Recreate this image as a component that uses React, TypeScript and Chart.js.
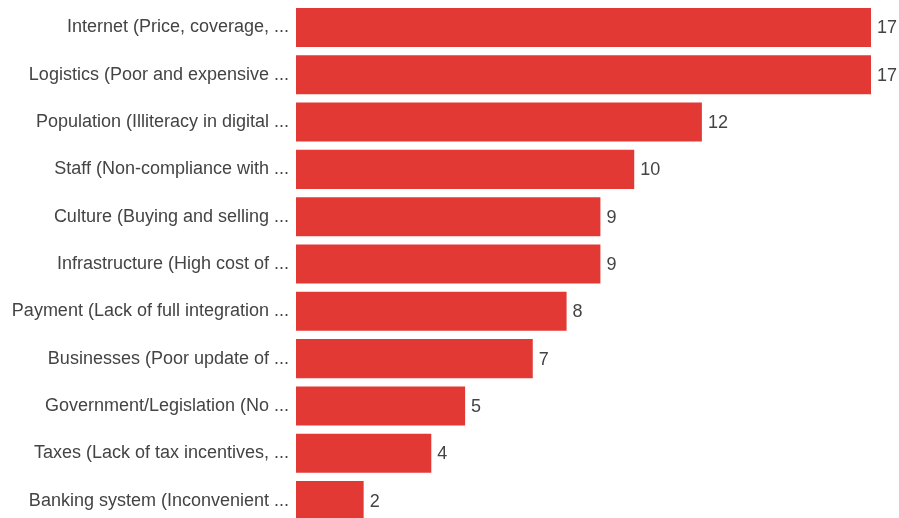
import React, { useEffect, useRef } from "react";
import { Chart, registerables } from "chart.js";

Chart.register(...registerables);

const categories = [
  "Internet (Price, coverage, ...",
  "Logistics (Poor and expensive ...",
  "Population (Illiteracy in digital ...",
  "Staff (Non-compliance with ...",
  "Culture (Buying and selling ...",
  "Infrastructure (High cost of ...",
  "Payment (Lack of full integration ...",
  "Businesses (Poor update of ...",
  "Government/Legislation (No ...",
  "Taxes (Lack of tax incentives, ...",
  "Banking system (Inconvenient ...",
];
const values = [17, 17, 12, 10, 9, 9, 8, 7, 5, 4, 2];
const xMax = 17;

const BAR_COLOR = "#e23934";
const TEXT_COLOR = "#444444";
const FONT = "'Liberation Sans', Arial, sans-serif";
const FONT_SIZE = 18;

const valueLabels = {
  id: "valueLabels",
  afterDatasetsDraw(chart: any) {
    const ctx = chart.ctx;
    const meta = chart.getDatasetMeta(0);
    ctx.save();
    ctx.font = `${FONT_SIZE}px ${FONT}`;
    ctx.fillStyle = TEXT_COLOR;
    ctx.textAlign = "left";
    ctx.textBaseline = "middle";
    meta.data.forEach((bar: any, i: number) => {
      ctx.fillText(String(values[i]), bar.x + 6, bar.y + 1);
    });
    ctx.restore();
  },
};

export default function App() {
  const ref = useRef<HTMLCanvasElement | null>(null);
  useEffect(() => {
    if (!ref.current) return;
    const chart = new Chart(ref.current, {
      type: "bar",
      data: {
        labels: categories,
        datasets: [
          {
            data: values,
            backgroundColor: BAR_COLOR,
            barPercentage: 0.825,
            categoryPercentage: 1,
          },
        ],
      },
      options: {
        indexAxis: "y",
        animation: false,
        responsive: false,
        maintainAspectRatio: false,
        layout: { padding: { top: 0, bottom: 0, left: 0, right: 28 } },
        plugins: {
          legend: { display: false },
          tooltip: { enabled: false },
        },
        scales: {
          x: {
            display: false,
            min: 0,
            max: xMax,
          },
          y: {
            grid: { display: false, drawTicks: false },
            border: { display: false },
            ticks: {
              color: TEXT_COLOR,
              font: { size: FONT_SIZE, family: FONT },
              padding: 7,
              autoSkip: false,
            },
            afterFit: (scale: any) => {
              scale.width = 296;
            },
          },
        },
      },
      plugins: [valueLabels],
    });
    return () => chart.destroy();
  }, []);
  return (
    <div style={{ position: "absolute", left: 0, top: 0, width: 899, height: 518, overflow: "hidden", background: "#fff" }}>
      <canvas ref={ref} width={899} height={556} style={{ display: "block", position: "absolute", left: 0, top: -14 }} />
    </div>
  );
}
